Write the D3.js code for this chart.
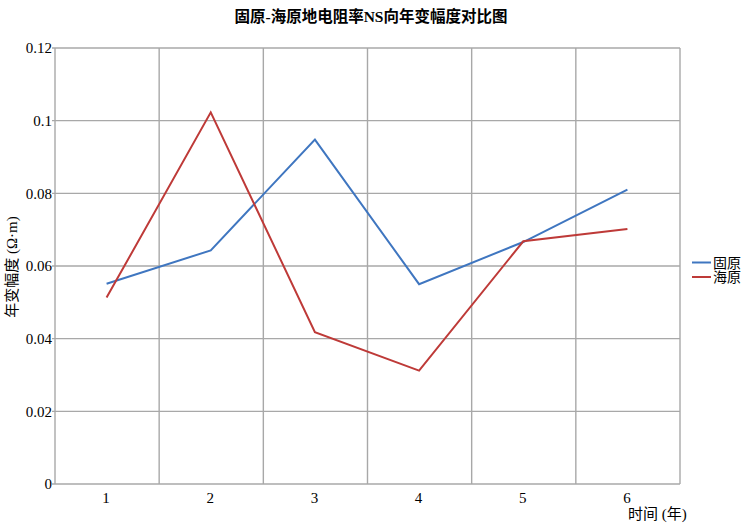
<!DOCTYPE html>
<html><head><meta charset="utf-8">
<script src="https://cdn.jsdelivr.net/npm/d3@7"></script>
<style>
html,body{margin:0;padding:0;background:#fff;}
text{font-family:"Liberation Serif","Times New Roman","Noto Sans CJK SC",serif;fill:#000;}
</style></head>
<body>
<svg id="chart" width="746" height="527"></svg>
<script>
const categories = ["1","2","3","4","5","6"];
const seriesNames = ["固原","海原"];
const guyuan = [0.0551, 0.0643, 0.0948, 0.0550, 0.0666, 0.0810];
const haiyuan = [0.0513, 0.1023, 0.0418, 0.0312, 0.0668, 0.0702];
const yTicks = [0, 0.02, 0.04, 0.06, 0.08, 0.1, 0.12];
const colors = ["#3F76C0", "#BE3A38"];
const chartTitle = "固原-海原地电阻率NS向年变幅度对比图";
const yTitle = "年变幅度 (Ω·m)";
const xTitle = "时间 (年)";

(function () {
const svg = d3.select("#chart");
const pLeft = 55, pRight = 680, pTop = 48, pBottom = 484;
const x = d3.scaleBand().domain(categories).range([pLeft, pRight]).paddingInner(0).paddingOuter(0);
const y = d3.scaleLinear().domain([0, 0.12]).range([pBottom, pTop]);
const grid = "#A8A8A8";

// horizontal gridlines
svg.append("g").selectAll("line").data(yTicks).join("line")
  .attr("x1", pLeft - 3).attr("x2", pRight)
  .attr("y1", d => y(d)).attr("y2", d => y(d))
  .attr("stroke", grid).attr("stroke-width", 1.4);

// vertical gridlines at category boundaries
const bounds = categories.map(c => x(c)).concat([pRight]);
svg.append("g").selectAll("line").data(bounds).join("line")
  .attr("x1", d => d).attr("x2", d => d)
  .attr("y1", pTop).attr("y2", pBottom)
  .attr("stroke", grid).attr("stroke-width", 1.4);

// y tick labels
svg.append("g").selectAll("text").data(yTicks).join("text")
  .attr("x", pLeft - 3).attr("y", d => y(d)).attr("dy", "0.35em")
  .attr("text-anchor", "end").style("font-size", "15px")
  .text(d => String(+d.toFixed(2)));

// x tick labels
svg.append("g").selectAll("text").data(categories).join("text")
  .attr("x", d => x(d) + x.bandwidth() / 2 - 1).attr("y", 503)
  .attr("text-anchor", "middle").style("font-size", "15px")
  .text(d => d);

// lines
const seriesData = [guyuan, haiyuan];
const line = d3.line().x((d, i) => x(categories[i]) + x.bandwidth() / 2 - 0.5).y(d => y(d));
svg.append("g").selectAll("path").data(seriesData).join("path")
  .attr("d", d => line(d)).attr("fill", "none")
  .attr("stroke", (d, i) => colors[i]).attr("stroke-width", 2)
  .attr("stroke-linejoin", "miter");

// title
svg.append("text").attr("x", 371).attr("y", 22).attr("text-anchor", "middle")
  .style("font-size", "15.5px").style("font-weight", "bold").text(chartTitle);

// y axis title
svg.append("text").attr("transform", "translate(17,267) rotate(-90)")
  .attr("text-anchor", "middle").style("font-size", "15px").text(yTitle);

// x axis title
svg.append("text").attr("x", 628).attr("y", 519).attr("text-anchor", "start")
  .style("font-size", "15px").text(xTitle);

// legend
const lg = svg.append("g");
seriesNames.forEach((name, i) => {
  const ly = 262.5 + i * 14.5;
  lg.append("line").attr("x1", 692).attr("x2", 711).attr("y1", ly).attr("y2", ly)
    .attr("stroke", colors[i]).attr("stroke-width", 2);
  lg.append("text").attr("x", 713).attr("y", ly).attr("dy", "0.38em")
    .style("font-size", "14px").text(name);
});
})();
</script>
</body></html>
